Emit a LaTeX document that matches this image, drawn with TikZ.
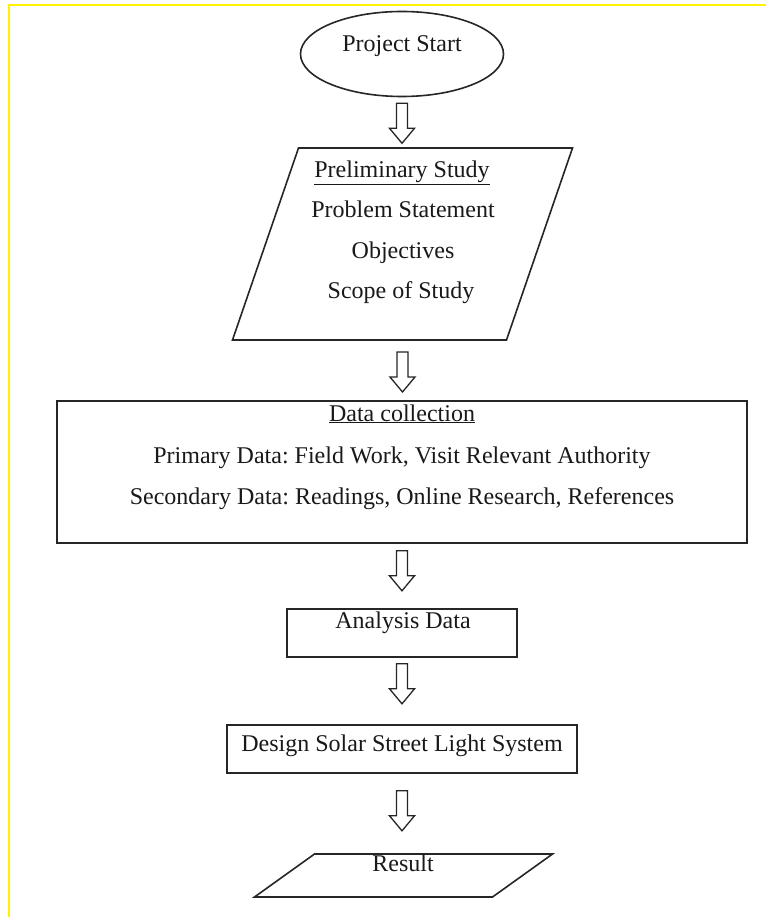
\documentclass[tikz,border=0pt]{standalone}
\usepackage{fontspec}
\setmainfont{Liberation Serif}
\frenchspacing
\usetikzlibrary{shapes.geometric,calc}
\begin{document}
\begin{tikzpicture}[x=1pt,y=-1pt,
  outline/.style={draw=black!85, line width=1.6pt},
  txt/.style={font=\fontsize{24}{28}\selectfont, text=black!90, anchor=base, inner sep=0pt},
  holder/.style={inner sep=0pt, outer sep=0pt},
  downarr/.pic={\draw[draw=black!85, line width=1.3pt, line join=miter]
     (-5.5,0) -- (5.5,0) -- (5.5,25) -- (12.5,25) -- (0,40) -- (-12.5,25) -- (-5.5,25) -- cycle;}
]
\useasboundingbox (0,0) rectangle (766,917);
\fill[white] (0,0) rectangle (766,917);
\draw[yellow, line width=2.6pt] (9,917) -- (9,5) -- (766,5);

% Project start
\node[ellipse, outline, minimum width=203pt, minimum height=85pt, inner sep=0pt] (start) at (402,54) {};
\node[txt] (startT) at (402,52) {Project Start};

% Preliminary study (parallelogram)
\node[holder, minimum width=274pt, minimum height=192pt] (prelim) at (402.5,244) {};
\draw[outline, line join=miter] ([xshift=33pt]prelim.north west) -- ([xshift=33pt]prelim.north east)
  -- ([xshift=-33pt]prelim.south east) -- ([xshift=-33pt]prelim.south west) -- cycle;
\node[txt] (prelimT1) at (402,178) {\underline{Preliminary Study}};
\node[txt] (prelimT2) at (403,218) {Problem Statement};
\node[txt] (prelimT3) at (403,258) {Objectives};
\node[txt] (prelimT4) at (401,298) {Scope of Study};

% Data collection
\node[outline, minimum width=690pt, minimum height=142pt, inner sep=0pt] (data) at (402,472) {};
\node[txt] (dataT1) at (402,421) {\underline{Data collection}};
\node[txt] (dataT2) at (402,463) {Primary Data: Field Work, Visit Relevant Authority};
\node[txt] (dataT3) at (402,504) {Secondary Data: Readings, Online Research, References};

% Analysis
\node[outline, minimum width=230pt, minimum height=48pt, inner sep=0pt] (anal) at (402,633) {};
\node[txt] (analT) at (403,628) {Analysis Data};

% Design
\node[outline, minimum width=350pt, minimum height=48pt, inner sep=0pt] (design) at (402,749) {};
\node[txt] (designT) at (402,751) {Design Solar Street Light System};

% Result (parallelogram)
\node[holder, minimum width=238pt, minimum height=43pt] (result) at (403.5,875.5) {};
\draw[outline, line join=miter] ([xshift=30pt]result.north west) -- ([xshift=30pt]result.north east)
  -- ([xshift=-30pt]result.south east) -- ([xshift=-30pt]result.south west) -- cycle;
\node[txt] (resultT) at (403,871) {Result};

% Block arrows
\pic at ($(start.south)+(0,6)$) {downarr};
\pic at ($(prelim.south)+(0,12)$) {downarr};
\pic at ($(data.south)+(0,7)$) {downarr};
\pic at ($(anal.south)+(0,6)$) {downarr};
\pic at ($(design.south)+(0,17)$) {downarr};
\end{tikzpicture}
\end{document}
